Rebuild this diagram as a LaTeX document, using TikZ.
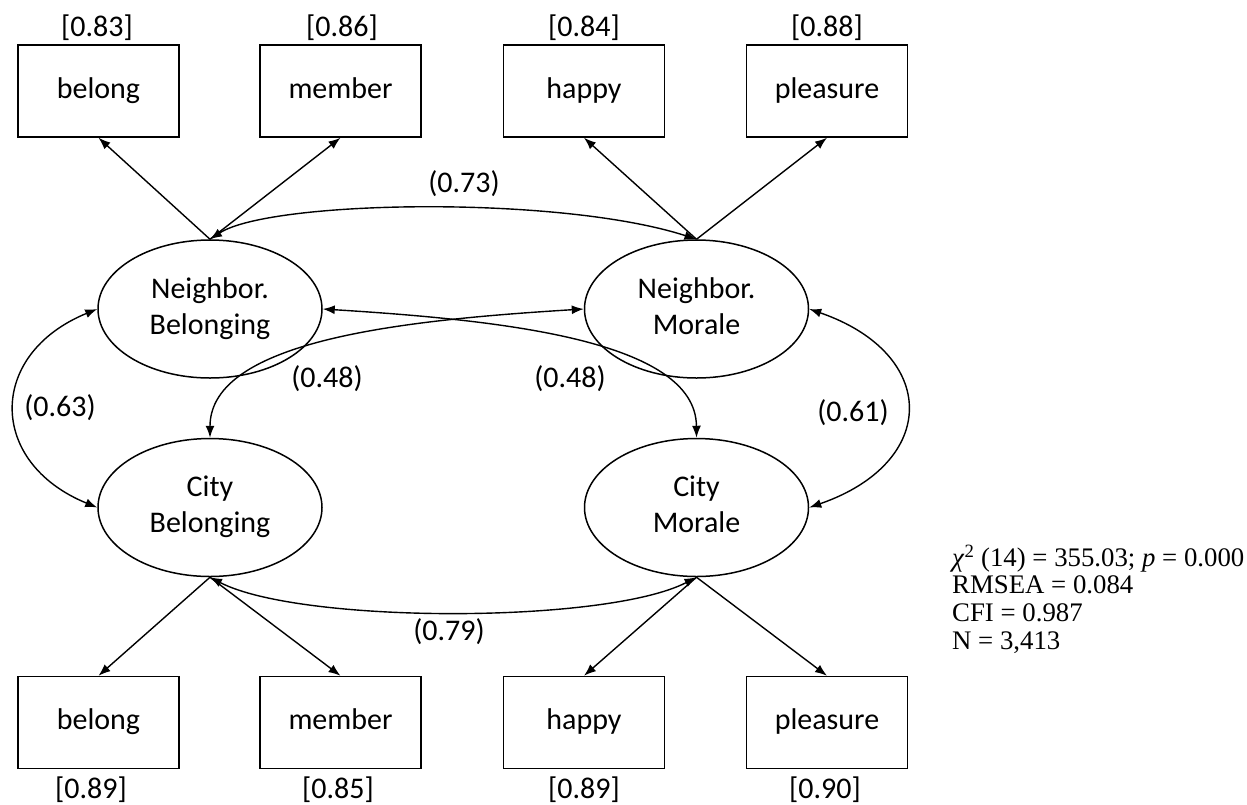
\documentclass[tikz,border=0pt]{standalone}
\usepackage{fontspec}
\setmainfont{Carlito}
\newfontfamily\timesf{Liberation Serif}
\usetikzlibrary{shapes.geometric,arrows.meta}
\tikzset{
  obs/.style={draw, line width=1.5pt, rectangle, minimum width=161pt, minimum height=92pt, text height=21pt, text depth=7pt, font=\fontsize{30}{36}\selectfont},
  lat/.style={draw, line width=1.5pt, ellipse, minimum width=224pt, minimum height=138pt, align=center, font=\fontsize{30}{36}\selectfont},
  lbl/.style={inner sep=0pt, font=\fontsize{30}{36}\selectfont},
  load/.style={line width=1.4pt, -{Latex[length=12pt,width=9pt]}},
  cov/.style={line width=1.4pt, {Latex[length=12pt,width=9pt]}-{Latex[length=12pt,width=9pt]}},
}
\begin{document}
\begin{tikzpicture}[x=1pt,y=-1pt]
\useasboundingbox (0,0) rectangle (1247,804);
% observed, top
\node[obs] (b1) at (98.5,91) {belong};
\node[obs] (m1) at (340.5,91) {member};
\node[obs] (h1) at (584,91) {happy};
\node[obs] (p1) at (827,91) {pleasure};
% observed, bottom
\node[obs] (b2) at (98.5,722.5) {belong};
\node[obs] (m2) at (340.5,722.5) {member};
\node[obs] (h2) at (584,722.5) {happy};
\node[obs] (p2) at (827,722.5) {pleasure};
% latent
\node[lat] (NB) at (210,309) {\strut Neighbor.\\\strut Belonging};
\node[lat] (NM) at (696.5,309) {\strut Neighbor.\\\strut Morale};
\node[lat] (CB) at (210,507.5) {\strut City\\\strut Belonging};
\node[lat] (CM) at (696.5,507.5) {\strut City\\\strut Morale};
% residual labels
\node[lbl] (r1) at (97,28) {[0.83]};
\node[lbl] (r2) at (342,28) {[0.86]};
\node[lbl] (r3) at (584,28) {[0.84]};
\node[lbl] (r4) at (827,28) {[0.88]};
\node[lbl] (r5) at (91,790) {[0.89]};
\node[lbl] (r6) at (338,790) {[0.85]};
\node[lbl] (r7) at (584,790) {[0.89]};
\node[lbl] (r8) at (825,790) {[0.90]};
% loadings
\draw[load] (NB.north) -- (b1.south);
\draw[load] (NB.north) -- (m1.south);
\draw[load] (NM.north) -- (h1.south);
\draw[load] (NM.north) -- (p1.south);
\draw[load] (CB.south) -- (b2.north);
\draw[load] (CB.south) -- (m2.north);
\draw[load] (CM.south) -- (h2.north);
\draw[load] (CM.south) -- (p2.north);
% covariances
\draw[cov] (NB.north) .. controls (270,200) and (560,195) .. (NM.north);
\draw[cov] (CB.south) .. controls (300,624) and (606,624) .. (CM.south);
\draw[cov] (NB.west) .. controls +(-110,45) and +(-110,-45) .. (CB.west);
\draw[cov] (NM.east) .. controls +(130,45) and +(130,-45) .. (CM.east);
\draw[cov] (NB.east) .. controls (500,320) and (696,340) .. (CM.north);
\draw[cov] (NM.west) .. controls (405,320) and (210,340) .. (CB.north);
% covariance labels
\node[lbl] (c1) at (464,184) {(0.73)};
\node[lbl] (c2) at (449,632) {(0.79)};
\node[lbl] (c3) at (60,408) {(0.63)};
\node[lbl] (c4) at (853,413) {(0.61)};
\node[lbl] (c5) at (327,379) {(0.48)};
\node[lbl] (c6) at (570,379) {(0.48)};
% fit
\node[anchor=west, align=left, inner sep=0pt, font=\timesf\fontsize{26.8}{27.7}\selectfont] (fit) at (952,599)
  {\textit{χ}\textsuperscript{2} (14) = 355.03; \textit{p} = 0.000\\RMSEA = 0.084\\CFI = 0.987\\N = 3,413};
\end{tikzpicture}
\end{document}
